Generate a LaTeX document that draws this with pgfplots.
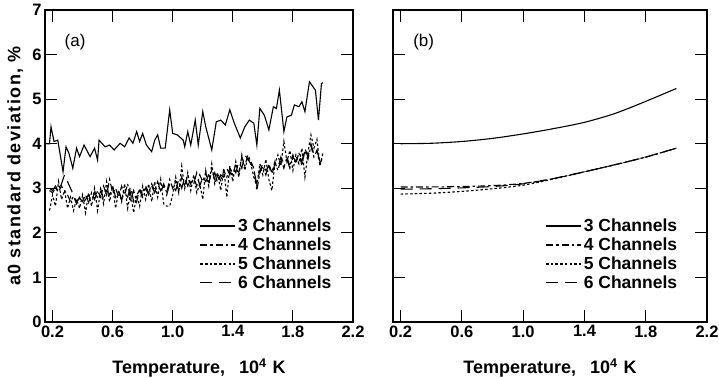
\documentclass[border=0pt]{standalone}
\usepackage{fontspec}
\setmainfont{Liberation Sans}
\newfontfamily\ylfont[LetterSpace=8]{Liberation Sans}
\usepackage{pgfplots}
\pgfplotsset{compat=1.18}
\pgfplotsset{
 myaxis/.style={
  scale only axis, height=312pt, xmin=0.15, xmax=2.2, ymin=0, ymax=7,
  xtick={0.2,0.6,1.0,1.4,1.8,2.2}, xticklabels={0.2,0.6,1.0,1.4,1.8,2.2},
  ytick={0,1,2,3,4,5,6,7},
  tick align=inside, major tick length=12pt,
  axis line style={line width=1.4pt},
  tick style={line width=1pt, black},
  tick label style={font=\fontsize{16.5}{16.5}\selectfont\bfseries},
  /pgf/number format/assume math mode=true,
  xlabel={Temperature,\hspace{14pt}10\textsuperscript{4}\hspace{6pt}K},
  label style={font=\fontsize{18}{18}\selectfont\bfseries},
  xlabel style={at={(axis description cs:0.5,-0.148)}, anchor=center},
  legend style={draw=none, fill=none, font=\fontsize{17.5}{17.5}\selectfont\bfseries,
    anchor=north west, cells={anchor=west}, row sep=0.8pt, inner sep=0pt,
    nodes={inner xsep=2.2pt, inner ysep=2pt}},
  legend image code/.code={\draw[#1] (0pt,0pt) -- (35pt,0pt);},
  every axis plot/.append style={line width=1.1pt, black},
 },
 c3/.style={solid},
 c4/.style={dash pattern=on 7pt off 3pt on 2.5pt off 3pt},
 c5/.style={dash pattern=on 2.5pt off 2.2pt},
 c6/.style={dash pattern=on 12pt off 7pt},
}
\begin{document}
\begin{tikzpicture}
\path[use as bounding box] (-45pt,-55pt) rectangle (674pt,322pt);
\begin{axis}[myaxis, width=308pt, at={(0pt,0pt)},
  ylabel={a0 standard deviation, \%},
  ylabel style={at={(axis description cs:-0.097,0.5)}, anchor=center,
    font=\ylfont\fontsize{18}{18}\selectfont\bfseries},
  legend style={at={(rel axis cs:0.502,0.3375)}}]
\addplot[c3] coordinates {
(0.16,4.00)(0.18,4.00)(0.19,4.38)(0.21,4.05)(0.235,4.08)(0.27,3.37)(0.29,3.93)(0.31,3.78)
(0.335,3.45)(0.36,3.90)(0.38,3.71)(0.41,3.97)(0.45,3.71)(0.48,3.90)(0.50,3.63)(0.51,4.08)
(0.55,3.93)(0.58,3.97)(0.61,3.86)(0.65,4.01)(0.68,3.93)(0.71,4.13)(0.735,4.01)(0.76,4.27)
(0.78,4.05)(0.80,4.23)(0.825,3.97)(0.86,3.82)(0.88,4.08)(0.90,4.20)(0.92,3.90)(0.95,3.90)
(0.98,4.76)(1.00,4.23)(1.03,4.20)(1.07,4.08)(1.08,3.93)(1.10,4.27)(1.12,3.97)(1.15,4.53)
(1.17,3.97)(1.20,4.72)(1.22,4.38)(1.26,3.86)(1.29,4.49)(1.32,4.53)(1.35,4.42)(1.38,4.76)
(1.41,4.46)(1.45,4.13)(1.48,4.38)(1.51,4.53)(1.54,4.46)(1.56,3.97)(1.58,4.79)(1.61,4.64)
(1.64,4.31)(1.67,4.83)(1.69,4.79)(1.71,5.20)(1.74,4.27)(1.76,4.60)(1.79,4.64)(1.81,4.87)
(1.84,4.83)(1.86,4.94)(1.88,4.72)(1.91,5.39)(1.95,5.20)(1.97,4.53)(1.99,5.35)(2.00,5.37)};
\addlegendentry{3 Channels}
\addplot[c4] coordinates {
(0.18,2.95)(0.20,2.90)(0.22,3.00)(0.24,2.92)(0.26,3.05)(0.28,2.95)(0.30,2.85)(0.32,2.70)
(0.34,2.82)(0.36,2.65)(0.38,2.78)(0.40,2.70)(0.42,2.85)(0.44,2.68)(0.46,2.90)(0.48,2.75)
(0.50,2.95)(0.52,2.80)(0.54,3.05)(0.56,2.85)(0.58,3.20)(0.60,2.90)(0.62,3.00)(0.64,2.80)
(0.66,3.05)(0.68,2.85)(0.70,3.10)(0.72,2.75)(0.74,2.95)(0.76,2.70)(0.78,3.00)(0.80,2.85)
(0.82,3.05)(0.84,2.90)(0.86,3.10)(0.88,2.95)(0.90,3.15)(0.92,2.95)(0.94,3.10)(0.96,2.90)
(0.98,3.20)(1.00,3.00)(1.02,3.15)(1.04,2.95)(1.06,3.25)(1.08,3.05)(1.10,3.30)(1.12,3.10)
(1.14,3.25)(1.16,3.05)(1.18,3.30)(1.20,3.15)(1.22,3.35)(1.24,3.10)(1.26,3.40)(1.28,3.20)
(1.30,3.35)(1.32,3.15)(1.34,3.40)(1.36,3.25)(1.38,3.45)(1.40,3.30)(1.42,3.55)(1.44,3.35)
(1.46,3.70)(1.48,3.50)(1.50,3.75)(1.52,3.60)(1.54,3.45)(1.56,2.95)(1.58,3.35)(1.60,3.50)
(1.62,3.30)(1.64,3.55)(1.66,3.35)(1.68,3.60)(1.70,3.40)(1.72,3.65)(1.74,3.45)(1.76,3.70)
(1.78,3.50)(1.80,3.75)(1.82,3.55)(1.84,3.80)(1.86,3.50)(1.88,3.85)(1.90,3.65)(1.92,3.95)
(1.94,3.70)(1.96,3.85)(1.98,3.55)(2.00,3.70)};
\addlegendentry{4 Channels}
\addplot[c5] coordinates {
(0.18,2.50)(0.20,2.85)(0.22,2.60)(0.24,3.15)(0.26,2.75)(0.28,2.95)(0.30,2.55)(0.32,2.80)
(0.34,2.50)(0.36,2.75)(0.38,2.55)(0.40,2.85)(0.42,2.45)(0.44,2.90)(0.46,2.60)(0.48,3.00)
(0.50,2.50)(0.52,2.95)(0.54,2.65)(0.56,3.15)(0.58,2.70)(0.60,3.05)(0.62,2.55)(0.64,2.95)
(0.66,2.70)(0.68,3.10)(0.70,2.55)(0.72,2.90)(0.74,2.45)(0.76,2.85)(0.78,2.60)(0.80,3.05)
(0.82,2.75)(0.84,3.10)(0.86,2.70)(0.88,3.15)(0.90,2.80)(0.92,3.20)(0.94,2.65)(0.96,2.60)
(0.98,2.60)(1.00,2.85)(1.02,3.25)(1.04,2.90)(1.06,3.50)(1.08,3.00)(1.10,3.35)(1.12,2.95)
(1.14,3.30)(1.16,2.90)(1.18,3.10)(1.20,2.75)(1.22,3.40)(1.24,3.05)(1.26,3.55)(1.28,3.10)
(1.30,3.30)(1.32,2.95)(1.34,3.45)(1.36,2.80)(1.38,3.50)(1.40,3.15)(1.42,3.60)(1.44,3.25)
(1.46,3.75)(1.48,3.40)(1.50,3.70)(1.52,3.55)(1.54,3.25)(1.56,3.05)(1.58,3.55)(1.60,3.30)
(1.62,3.65)(1.64,3.20)(1.66,2.95)(1.68,3.55)(1.70,3.75)(1.72,3.50)(1.74,4.05)(1.76,3.60)
(1.78,3.85)(1.80,3.40)(1.82,3.75)(1.84,3.55)(1.86,3.90)(1.88,3.25)(1.90,3.80)(1.92,4.20)
(1.94,3.90)(1.96,4.10)(1.98,3.50)(2.00,3.80)};
\addlegendentry{5 Channels}
\addplot[c6] coordinates {
(0.18,3.00)(0.20,2.95)(0.22,3.05)(0.24,2.95)(0.26,3.10)(0.28,3.30)(0.30,3.15)(0.32,3.00)
(0.34,2.85)(0.36,2.70)(0.38,2.80)(0.40,2.65)(0.42,2.75)(0.44,2.85)(0.46,2.70)(0.48,2.90)
(0.50,2.80)(0.52,3.00)(0.54,2.75)(0.56,2.95)(0.58,2.85)(0.60,3.05)(0.62,2.80)(0.64,2.95)
(0.66,2.75)(0.68,2.90)(0.70,2.80)(0.72,3.05)(0.74,2.70)(0.76,2.85)(0.78,2.95)(0.80,2.80)
(0.82,3.00)(0.84,2.85)(0.86,3.05)(0.88,2.90)(0.90,3.10)(0.92,2.95)(0.94,3.05)(0.96,2.85)
(0.98,3.10)(1.00,3.05)(1.02,2.95)(1.04,3.20)(1.06,3.00)(1.08,3.25)(1.10,3.05)(1.12,3.20)
(1.14,3.10)(1.16,3.35)(1.18,3.05)(1.20,3.25)(1.22,3.15)(1.24,3.30)(1.26,3.20)(1.28,3.35)
(1.30,3.10)(1.32,3.30)(1.34,3.25)(1.36,3.45)(1.38,3.30)(1.40,3.50)(1.42,3.35)(1.44,3.60)
(1.46,3.45)(1.48,3.75)(1.50,3.65)(1.52,3.55)(1.54,3.40)(1.56,3.10)(1.58,3.40)(1.60,3.55)
(1.62,3.40)(1.64,3.50)(1.66,3.30)(1.68,3.55)(1.70,3.45)(1.72,3.70)(1.74,3.55)(1.76,3.65)
(1.78,3.45)(1.80,3.70)(1.82,3.60)(1.84,3.75)(1.86,3.60)(1.88,3.90)(1.90,3.70)(1.92,4.00)
(1.94,3.75)(1.96,3.85)(1.98,3.60)(2.00,3.65)};
\addlegendentry{6 Channels}
\node[font=\fontsize{17}{17}\selectfont] at (axis cs:0.35,6.28) {(a)};
\end{axis}
\begin{axis}[myaxis, width=314pt, at={(348pt,0pt)}, yticklabels={},
  legend style={at={(rel axis cs:0.485,0.3375)}}]
\addplot[c3, smooth] coordinates {
(0.2,4.00)(0.4,4.01)(0.6,4.05)(0.8,4.12)(1.0,4.22)(1.2,4.34)(1.4,4.48)(1.6,4.68)(1.8,4.95)(2.0,5.24)};
\addlegendentry{3 Channels}
\addplot[c4, smooth] coordinates {
(0.2,3.03)(0.4,3.03)(0.6,3.04)(0.8,3.06)(1.0,3.11)(1.2,3.22)(1.4,3.37)(1.6,3.53)(1.8,3.70)(2.0,3.90)};
\addlegendentry{4 Channels}
\addplot[c5, smooth] coordinates {
(0.2,2.87)(0.4,2.89)(0.6,2.93)(0.8,2.99)(1.0,3.07)(1.2,3.21)(1.4,3.37)(1.6,3.53)(1.8,3.70)(2.0,3.90)};
\addlegendentry{5 Channels}
\addplot[c6, smooth] coordinates {
(0.2,2.98)(0.4,2.99)(0.6,3.01)(0.8,3.04)(1.0,3.10)(1.2,3.22)(1.4,3.37)(1.6,3.53)(1.8,3.70)(2.0,3.90)};
\addlegendentry{6 Channels}
\node[font=\fontsize{17}{17}\selectfont] at (axis cs:0.35,6.28) {(b)};
\end{axis}
\end{tikzpicture}
\end{document}
